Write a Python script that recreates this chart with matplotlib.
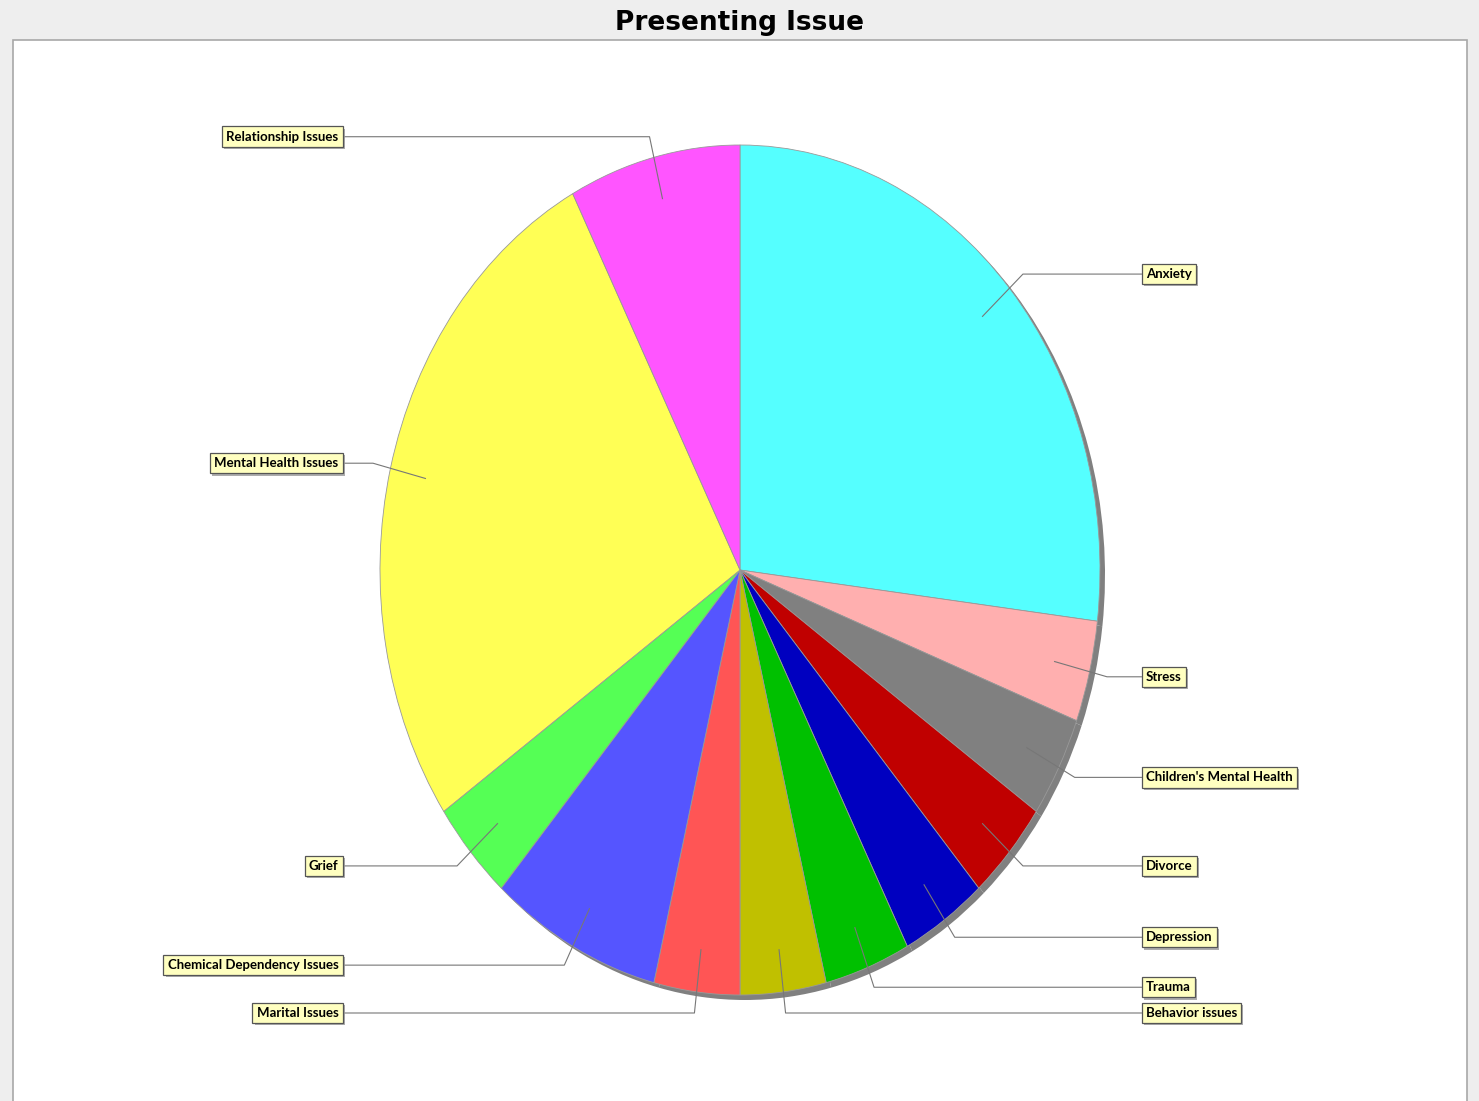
import numpy as np
import matplotlib
matplotlib.use('Agg')
import matplotlib.pyplot as plt
import matplotlib.patheffects as pe
from matplotlib.patches import Rectangle

issues = ['Anxiety', 'Stress', "Children's Mental Health", 'Divorce', 'Depression',
          'Trauma', 'Behavior issues', 'Marital Issues', 'Chemical Dependency Issues',
          'Grief', 'Mental Health Issues', 'Relationship Issues']
counts = [7, 1, 1, 1, 1, 1, 1, 1, 2, 1, 7, 2]
colors = ['#55FFFF', '#FFAFAF', '#808080', '#C00000', '#0000C0', '#00C000',
          '#C0C000', '#FF5555', '#5555FF', '#55FF55', '#FFFF55', '#FF55FF']

W, H = 1479, 1101
fig = plt.figure(figsize=(W / 100, H / 100), dpi=100, facecolor='#EEEEEE')

# white plot area with grey frame (behind the pie)
fig.patches.append(Rectangle((13 / W, -0.01), (1467 - 13) / W, (H - 40) / H + 0.01,
                             transform=fig.transFigure, facecolor='white',
                             edgecolor='#A8A8A8', lw=1.2, zorder=-10))
fig.text(0.5, 1 - 23 / H, 'Presenting Issue', ha='center', va='center',
         fontsize=19, fontweight='bold')

# pie axes sized so the pie comes out as an ellipse like the original
ax = fig.add_axes([380 / W, (H - 995) / H, 720 / W, 850 / H])

# drop shadow
ax.pie(counts, colors=['#808080'] * len(counts), startangle=90, counterclock=False,
       center=(5 / 360, -5 / 425), wedgeprops=dict(linewidth=0))
wedges, _ = ax.pie(counts, colors=colors, startangle=90, counterclock=False,
                   wedgeprops=dict(linewidth=0.6, edgecolor='#999999'))

ax.set_xlim(-1, 1)
ax.set_ylim(-1, 1)
ax.set_aspect('auto')
ax.axis('off')

for w, name in zip(wedges, issues):
    mid = np.deg2rad((w.theta1 + w.theta2) / 2)
    c, s = np.cos(mid), np.sin(mid)
    sx, sy = 0.9 * c, 0.9 * s
    ex, ey = 1.05 * c, 1.05 * s
    side = 1 if c > 0 else -1
    lx = 1.115 if side > 0 else -1.103
    ax.plot([sx, ex, lx], [sy, ey, ey], color='#777777', lw=0.8, clip_on=False)
    t = ax.text(lx + side * 4.5 / 360, ey, name, ha='left' if side > 0 else 'right',
                va='center', fontsize=9.5, family='Lato', fontweight='bold',
                clip_on=False,
                bbox=dict(boxstyle='square,pad=0.32', facecolor='#FFFFC0',
                          edgecolor='#555555', lw=0.9))
    t.get_bbox_patch().set_path_effects(
        [pe.SimplePatchShadow(offset=(1.5, -1.5), shadow_rgbFace='#999999', alpha=0.8),
         pe.Normal()])

fig.savefig('out.png', dpi=100, facecolor=fig.get_facecolor())
